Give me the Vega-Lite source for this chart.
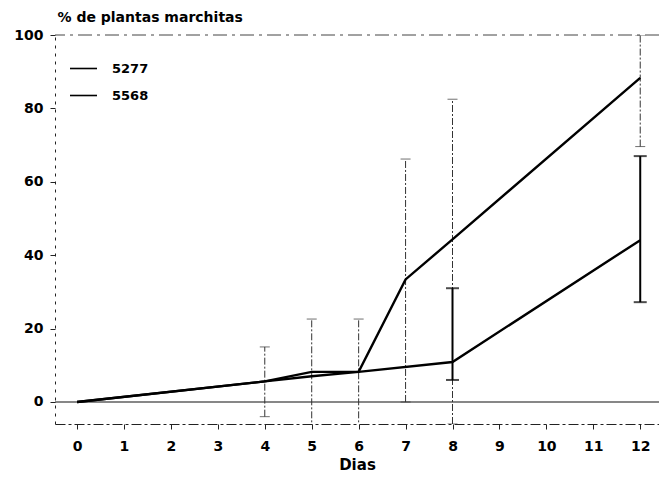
{
  "$schema": "https://vega.github.io/schema/vega-lite/v6.json",
  "autosize": {"type": "none"},
  "padding": {"left": 55, "top": 35, "right": 0, "bottom": 58},
  "width": 604,
  "height": 389,
  "background": "white",
  "config": {
    "view": {"stroke": null},
    "font": "DejaVu Sans",
    "axis": {
      "labelFont": "DejaVu Sans",
      "labelFontWeight": "bold",
      "labelFontSize": 14,
      "labelColor": "black",
      "titleFont": "DejaVu Sans",
      "titleFontWeight": "bold",
      "titleFontSize": 14,
      "titleColor": "black",
      "domainColor": "#222",
      "tickColor": "#222",
      "grid": false
    }
  },
  "datasets": {
    "series": [
      {"dia": 0, "serie": "5277", "pct": 0},
      {"dia": 4, "serie": "5277", "pct": 5.6},
      {"dia": 5, "serie": "5277", "pct": 8.2},
      {"dia": 6, "serie": "5277", "pct": 8.2},
      {"dia": 7, "serie": "5277", "pct": 33.4},
      {"dia": 8, "serie": "5277", "pct": 44.3},
      {"dia": 12, "serie": "5277", "pct": 88.3},
      {"dia": 0, "serie": "5568", "pct": 0},
      {"dia": 4, "serie": "5568", "pct": 5.6},
      {"dia": 5, "serie": "5568", "pct": 7.0},
      {"dia": 6, "serie": "5568", "pct": 8.2},
      {"dia": 8, "serie": "5568", "pct": 10.9},
      {"dia": 12, "serie": "5568", "pct": 44.1}
    ],
    "errores": [
      {"dia": 4, "serie": "5277", "lo": -4, "hi": 15},
      {"dia": 5, "serie": "5277", "lo": -8, "hi": 22.6},
      {"dia": 6, "serie": "5277", "lo": -8, "hi": 22.6},
      {"dia": 7, "serie": "5277", "lo": 0, "hi": 66.2},
      {"dia": 8, "serie": "5277", "lo": -6, "hi": 82.5},
      {"dia": 12, "serie": "5277", "lo": 69.6, "hi": 100},
      {"dia": 8, "serie": "5568", "lo": 6, "hi": 31},
      {"dia": 12, "serie": "5568", "lo": 27.2, "hi": 67}
    ],
    "refs": [
      {"nivel": 0},
      {"nivel": 100}
    ]
  },
  "layer": [
    {
      "data": {"name": "refs"},
      "mark": {"type": "rule", "color": "#444", "strokeWidth": 1, "strokeDash": [14, 5, 3, 5]},
      "transform": [{"filter": "datum.nivel == 100"}],
      "encoding": {
        "y": {"field": "nivel", "type": "quantitative", "scale": {"domain": [-6, 100], "nice": false, "zero": false}}
      }
    },
    {
      "data": {"name": "refs"},
      "mark": {"type": "rule", "color": "#111", "strokeWidth": 1.2},
      "transform": [{"filter": "datum.nivel == 0"}],
      "encoding": {
        "y": {"field": "nivel", "type": "quantitative"}
      }
    },
    {
      "data": {"name": "errores"},
      "transform": [{"filter": "datum.serie == '5277'"}],
      "mark": {"type": "rule", "color": "#333", "strokeWidth": 1, "strokeDash": [7, 2, 2, 2], "clip": true},
      "encoding": {
        "x": {"field": "dia", "type": "quantitative"},
        "y": {"field": "lo", "type": "quantitative"},
        "y2": {"field": "hi"}
      }
    },
    {
      "data": {"name": "errores"},
      "transform": [{"filter": "datum.serie == '5277'"}, {"fold": ["lo", "hi"], "as": ["extremo", "valor"]}],
      "mark": {"type": "tick", "orient": "horizontal", "color": "#333", "thickness": 1, "size": 10, "clip": true},
      "encoding": {
        "x": {"field": "dia", "type": "quantitative"},
        "y": {"field": "valor", "type": "quantitative"}
      }
    },
    {
      "data": {"name": "errores"},
      "transform": [{"filter": "datum.serie == '5568'"}],
      "mark": {"type": "rule", "color": "black", "strokeWidth": 2, "clip": true},
      "encoding": {
        "x": {"field": "dia", "type": "quantitative"},
        "y": {"field": "lo", "type": "quantitative"},
        "y2": {"field": "hi"}
      }
    },
    {
      "data": {"name": "errores"},
      "transform": [{"filter": "datum.serie == '5568'"}, {"fold": ["lo", "hi"], "as": ["extremo", "valor"]}],
      "mark": {"type": "tick", "orient": "horizontal", "color": "black", "thickness": 2, "size": 13, "clip": true},
      "encoding": {
        "x": {"field": "dia", "type": "quantitative"},
        "y": {"field": "valor", "type": "quantitative"}
      }
    },
    {
      "data": {"name": "series"},
      "mark": {"type": "line", "strokeWidth": 2.4, "clip": true},
      "encoding": {
        "x": {
          "field": "dia",
          "type": "quantitative",
          "scale": {"domain": [-0.47, 12.4], "nice": false, "zero": false},
          "axis": {
            "title": "Dias",
            "titleFontSize": 15,
            "values": [0, 1, 2, 3, 4, 5, 6, 7, 8, 9, 10, 11, 12],
            "format": "d",
            "domainDash": [10, 3, 3, 3],
            "tickSize": 5,
            "labelPadding": 10,
            "titlePadding": 4,
            "titleX": 302
          }
        },
        "y": {
          "field": "pct",
          "type": "quantitative",
          "scale": {"domain": [-6, 100], "nice": false, "zero": false},
          "axis": {
            "title": "% de plantas marchitas",
            "values": [0, 20, 40, 60, 80, 100],
            "domainDash": [3, 5],
            "tickSize": 5,
            "labelPadding": 7,
            "titleAngle": 0,
            "titleAlign": "left",
            "titleBaseline": "alphabetic",
            "titleX": 2,
            "titleY": -14
          }
        },
        "color": {
          "field": "serie",
          "type": "nominal",
          "scale": {"domain": ["5277", "5568"], "range": ["black", "black"]},
          "legend": {
            "title": null,
            "orient": "none",
            "legendX": 14,
            "legendY": 19,
            "symbolType": "stroke",
            "symbolSize": 730,
            "symbolStrokeWidth": 1.6,
            "rowPadding": 5,
            "labelFont": "DejaVu Sans",
            "labelFontWeight": "bold",
            "labelFontSize": 13,
            "labelColor": "black",
            "labelOffset": 14
          }
        }
      }
    }
  ]
}
